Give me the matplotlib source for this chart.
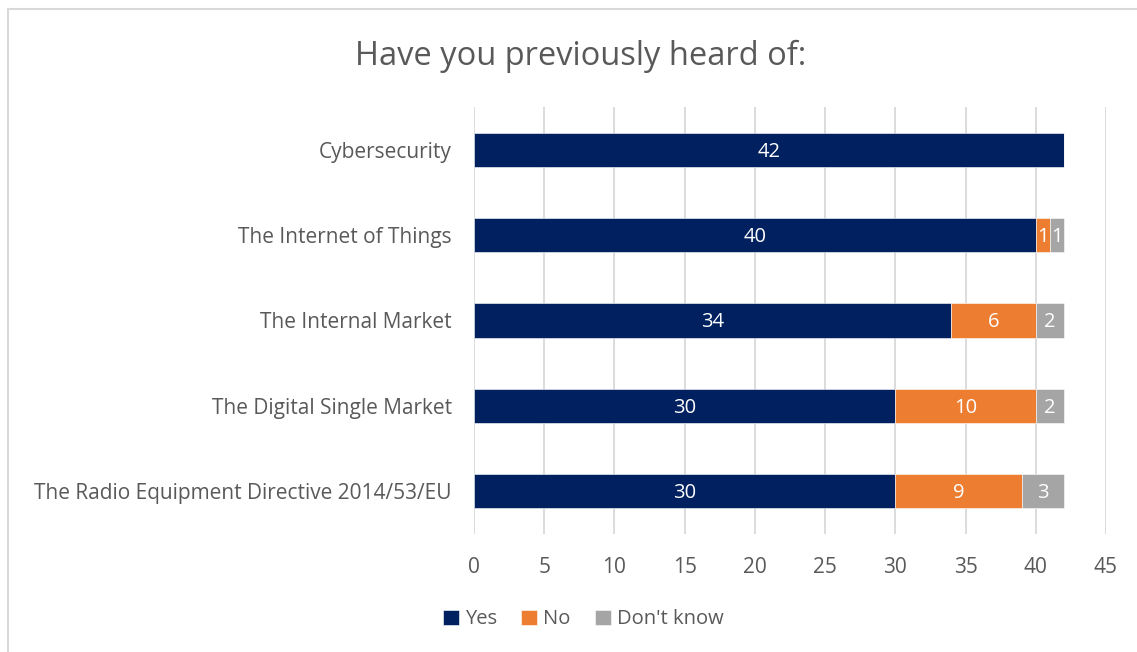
import matplotlib
matplotlib.use("Agg")
import matplotlib.pyplot as plt
from matplotlib.patches import Rectangle
import matplotlib.transforms as mtrans
import numpy as np

plt.rcParams['font.family'] = ['Open Sans', 'DejaVu Sans']

categories = ["The Radio Equipment Directive 2014/53/EU",
              "The Digital Single Market",
              "The Internal Market",
              "The Internet of Things",
              "Cybersecurity"]
yes = [30, 30, 34, 40, 42]
no = [9, 10, 6, 1, 0]
dont_know = [3, 2, 2, 1, 0]
series = [("Yes", yes, "#002060"), ("No", no, "#ED7D31"), ("Don't know", dont_know, "#A5A5A5")]

txt = "#595959"

fig = plt.figure(figsize=(11.37, 6.52), dpi=100)
ax = fig.add_axes([0.4169, 0.1816, 0.5558, 0.6537])

# chart border (only top and left visible)
fig.patches.append(Rectangle((0.0066, -0.1), 1.2, 1.086, transform=fig.transFigure,
                             fill=False, edgecolor="#D9D9D9", linewidth=1.5))

# nudge value labels down a little
lbl_tr = ax.transData + mtrans.ScaledTranslation(0, -2 / 100, fig.dpi_scale_trans)

ypos = np.arange(len(categories))
left = np.zeros(len(categories))
for name, vals, col in series:
    vals = np.array(vals, dtype=float)
    bars = ax.barh(ypos, vals, left=left, height=0.4, color=col, label=name,
                   edgecolor="white", linewidth=0.4, zorder=3)
    for b, v in zip(bars, vals):
        if v > 0:
            ax.text(b.get_x() + b.get_width() / 2, b.get_y() + b.get_height() / 2,
                    f"{int(v)}", ha="center", va="center", color="white", fontsize=14.5,
                    zorder=4, transform=lbl_tr)
    left += vals

ax.set_xlim(0, 45)
ax.set_ylim(-0.5, len(categories) - 0.5)
ax.set_xticks(np.arange(0, 46, 5))
ax.set_yticks(ypos)
ax.set_yticklabels(categories)
ax.tick_params(axis="both", length=0, colors=txt, labelsize=15)
ax.tick_params(axis="x", pad=17)
ax.tick_params(axis="y", pad=16)
ax.grid(axis="x", color="#D9D9D9", linewidth=1.3, zorder=0)
for s in ax.spines.values():
    s.set_visible(False)

fig.text(0.511, 0.913, "Have you previously heard of:", ha="center", va="center",
         fontsize=23.5, color=txt)

fig.legend(loc="center", bbox_to_anchor=(0.513, 0.05), ncol=3, frameon=False,
           fontsize=14.5, labelcolor=txt, handlelength=0.8, handleheight=0.8,
           handletextpad=0.3, columnspacing=1.2)

fig.savefig("out.png", dpi=100)
